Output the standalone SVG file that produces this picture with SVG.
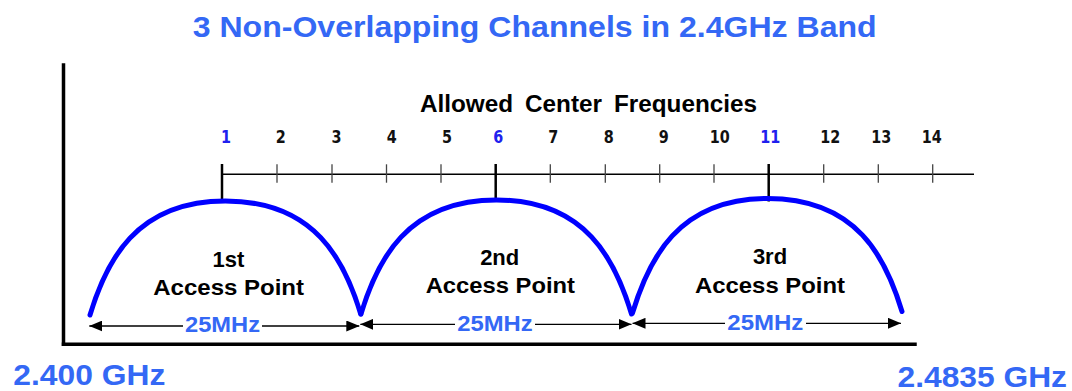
<svg xmlns="http://www.w3.org/2000/svg" width="1072" height="391" viewBox="0 0 1072 391">
  <style>
    .title { font-family: "Liberation Sans", Arial, sans-serif; font-weight: bold; fill: #3468F5; }
    .lbl { font-family: "Liberation Sans", Arial, sans-serif; font-weight: bold; fill: #000; }
    .mhz { font-family: "Liberation Sans", Arial, sans-serif; font-weight: bold; fill: #3468F5; font-size: 21.5px; text-anchor: middle; }
    .num { font-family: "DejaVu Sans Condensed", "DejaVu Sans", sans-serif; font-stretch: condensed; font-weight: bold; font-size: 16px; text-anchor: middle; fill: #111; }
    .num.ch { fill: #2020EE; }
    .axis { stroke: #000; stroke-width: 3.5; fill: none; stroke-linecap: square; }
    .minor { stroke: #444; stroke-width: 1.3; }
    .major { stroke: #000; stroke-width: 2.5; }
    .arc { stroke: #0000FF; stroke-width: 5; fill: none; stroke-linecap: round; }
    .dim { stroke: #000; stroke-width: 1.3; fill: none; marker-start: url(#ah); marker-end: url(#ah); }
  </style>
  <defs>
    <marker id="ah" viewBox="0 0 13 11" refX="13" refY="5.5" markerWidth="13" markerHeight="11" markerUnits="userSpaceOnUse" orient="auto-start-reverse">
      <path d="M0,0 L13,5.5 L0,11 Z" fill="#000"/>
    </marker>
  </defs>

  <rect width="1072" height="391" fill="#fff"/>

  <text class="title" x="192.7" y="37.3" font-size="30" textLength="684" lengthAdjust="spacingAndGlyphs">3 Non-Overlapping Channels in 2.4GHz Band</text>

  <g id="axes">
    <line class="axis" x1="63.5" y1="65" x2="63.5" y2="344.3"/>
    <line class="axis" x1="63.5" y1="344.3" x2="915" y2="344.3"/>
  </g>

  <g id="frequency-scale">
    <text class="lbl" x="420" y="111.7" font-size="23" word-spacing="5" textLength="337" lengthAdjust="spacingAndGlyphs">Allowed Center Frequencies</text>
    <line x1="222" y1="174.3" x2="974" y2="174.3" stroke="#000" stroke-width="1.5"/>
    <g class="minor">
      <line x1="277" y1="164.3" x2="277" y2="182.7"/>
      <line x1="332" y1="164.3" x2="332" y2="182.7"/>
      <line x1="386.5" y1="164.3" x2="386.5" y2="182.7"/>
      <line x1="441" y1="164.3" x2="441" y2="182.7"/>
      <line x1="550.3" y1="164.3" x2="550.3" y2="182.7"/>
      <line x1="605.3" y1="164.3" x2="605.3" y2="182.7"/>
      <line x1="659.7" y1="164.3" x2="659.7" y2="182.7"/>
      <line x1="714" y1="164.3" x2="714" y2="182.7"/>
      <line x1="823.7" y1="164.3" x2="823.7" y2="182.7"/>
      <line x1="878.3" y1="164.3" x2="878.3" y2="182.7"/>
      <line x1="932.7" y1="164.3" x2="932.7" y2="182.7"/>
    </g>
    <g class="major">
      <line x1="222" y1="164" x2="222" y2="202"/>
      <line x1="495.7" y1="164" x2="495.7" y2="201.5"/>
      <line x1="768.7" y1="164" x2="768.7" y2="201.5"/>
    </g>
    <g id="channel-numbers">
      <text class="num ch" transform="translate(226,143.3) scale(1,1.15)">1</text>
      <text class="num" transform="translate(280.8,143.3) scale(1,1.15)">2</text>
      <text class="num" transform="translate(336.5,143.3) scale(1,1.15)">3</text>
      <text class="num" transform="translate(391.8,143.3) scale(1,1.15)">4</text>
      <text class="num" transform="translate(447,143.3) scale(1,1.15)">5</text>
      <text class="num ch" transform="translate(498.3,143.3) scale(1,1.15)">6</text>
      <text class="num" transform="translate(553.3,143.3) scale(1,1.15)">7</text>
      <text class="num" transform="translate(608.8,143.3) scale(1,1.15)">8</text>
      <text class="num" transform="translate(663.8,143.3) scale(1,1.15)">9</text>
      <text class="num" transform="translate(719.7,143.3) scale(1,1.15)">10</text>
      <text class="num ch" transform="translate(770.3,143.3) scale(1,1.15)">11</text>
      <text class="num" transform="translate(830.2,143.3) scale(1,1.15)">12</text>
      <text class="num" transform="translate(881.2,143.3) scale(1,1.15)">13</text>
      <text class="num" transform="translate(931.7,143.3) scale(1,1.15)">14</text>
    </g>
  </g>

  <g id="ap1">
    <path class="arc" d="M90,315 C106,262 135.4,201 225.4,201 C315.4,201 344.7,261 360.7,314"/>
    <text class="lbl" x="228.5" y="266.7" font-size="22" text-anchor="middle">1st</text>
    <text class="lbl" x="153.3" y="295" font-size="22" textLength="150.7" lengthAdjust="spacingAndGlyphs">Access Point</text>
  </g>
  <g id="ap2">
    <path class="arc" d="M361,314 C377,261 406.5,200 496.5,200 C586.5,200 615.5,261 631.5,314"/>
    <text class="lbl" x="499.7" y="265" font-size="22" text-anchor="middle">2nd</text>
    <text class="lbl" x="425.7" y="293.3" font-size="22" textLength="149.3" lengthAdjust="spacingAndGlyphs">Access Point</text>
  </g>
  <g id="ap3">
    <path class="arc" d="M632.5,313 C648.5,260 677.5,198.5 767.5,198.5 C857.5,198.5 886,258.5 902,311.5"/>
    <text class="lbl" x="770" y="264" font-size="22" text-anchor="middle">3rd</text>
    <text class="lbl" x="695" y="292.7" font-size="22" textLength="150" lengthAdjust="spacingAndGlyphs">Access Point</text>
  </g>

  <g id="connectors">
    <line class="dim" x1="89.3" y1="326" x2="359.3" y2="326"/>
    <rect x="183" y="316" width="79" height="20" fill="#fff"/>
    <text class="mhz" x="222.5" y="332.3" textLength="75" lengthAdjust="spacingAndGlyphs">25MHz</text>

    <line class="dim" x1="360.3" y1="324.3" x2="631.5" y2="324.3"/>
    <rect x="455" y="314" width="80" height="20" fill="#fff"/>
    <text class="mhz" x="495" y="331" textLength="75.4" lengthAdjust="spacingAndGlyphs">25MHz</text>

    <line class="dim" x1="632.5" y1="323.3" x2="901" y2="323.3"/>
    <rect x="725" y="313" width="81" height="20" fill="#fff"/>
    <text class="mhz" x="765.3" y="330" textLength="76" lengthAdjust="spacingAndGlyphs">25MHz</text>
  </g>

  <g id="band-edges">
    <text class="title" x="13.3" y="385" font-size="30" textLength="152" lengthAdjust="spacingAndGlyphs">2.400 GHz</text>
    <text class="title" x="897.5" y="387" font-size="30" textLength="169.5" lengthAdjust="spacingAndGlyphs">2.4835 GHz</text>
  </g>
</svg>
